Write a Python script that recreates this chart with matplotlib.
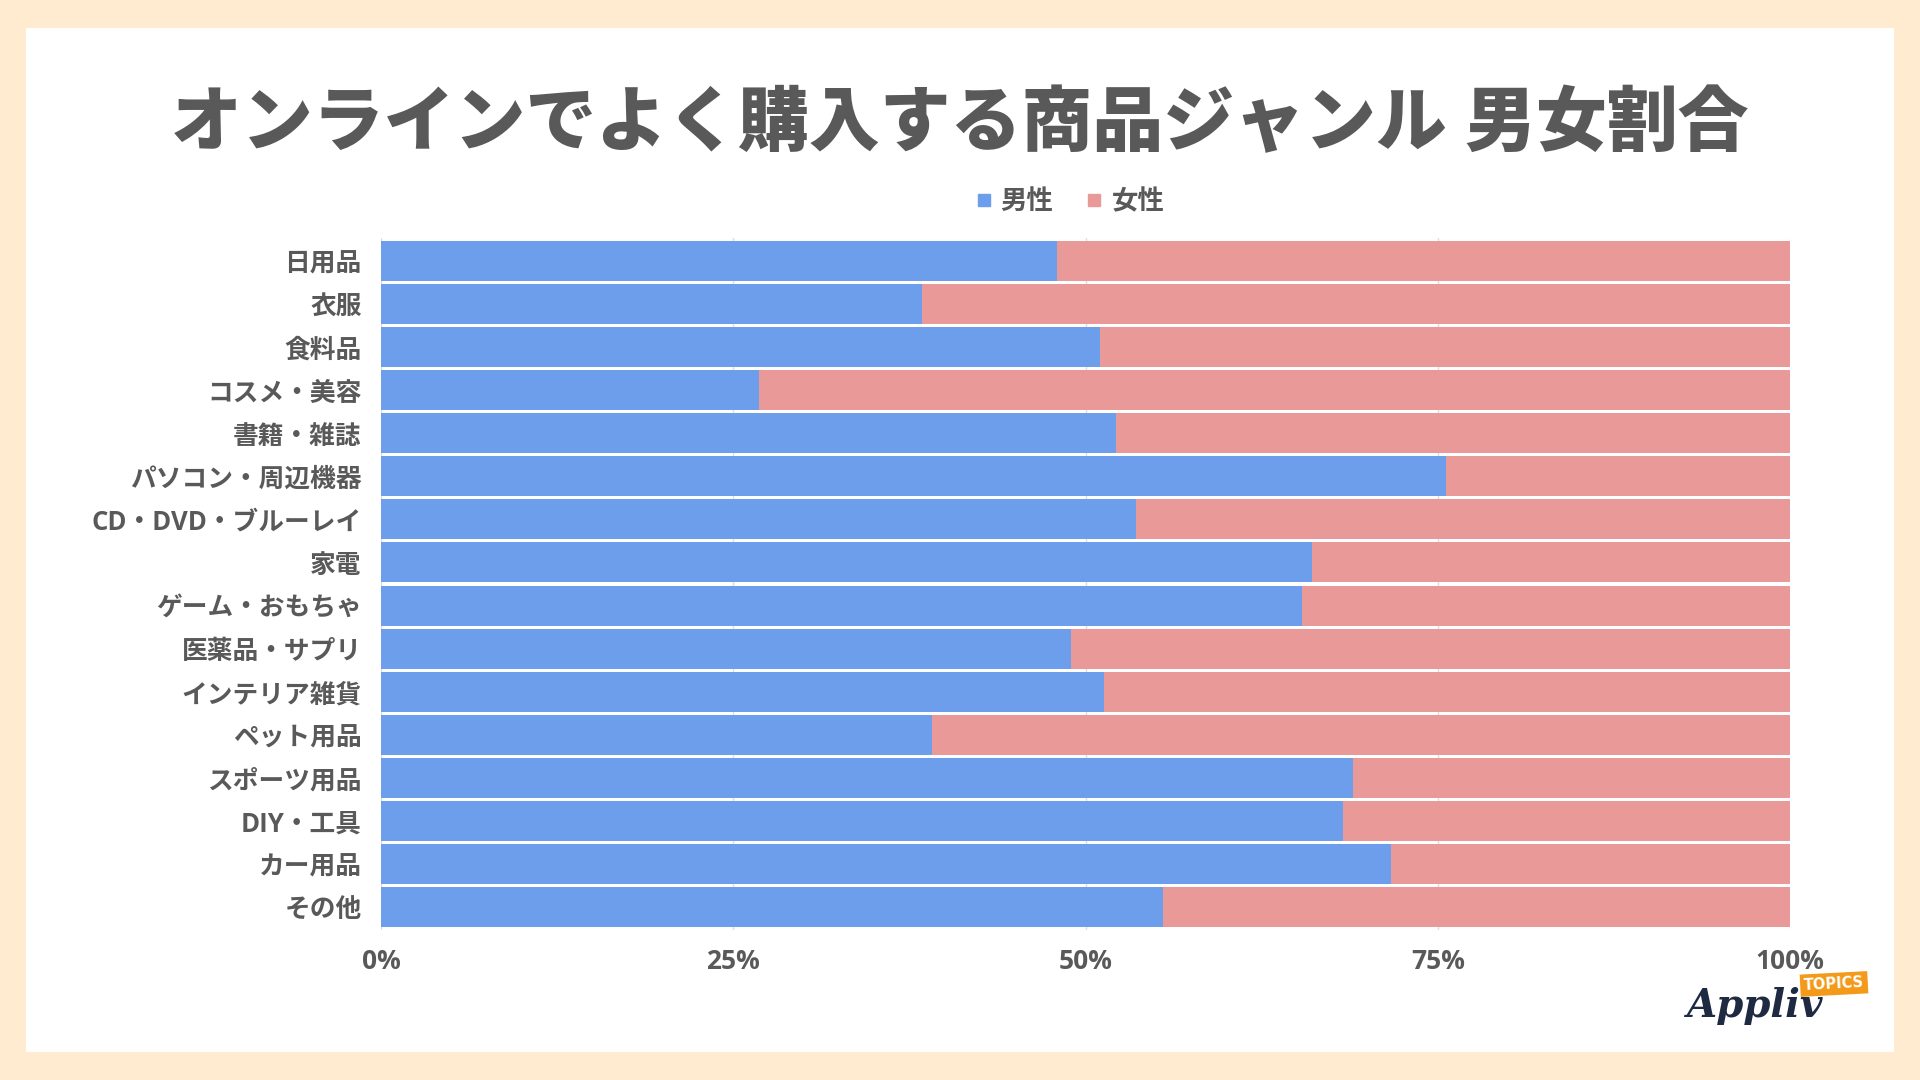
import matplotlib.pyplot as plt
from matplotlib.lines import Line2D
from matplotlib.patches import Rectangle

plt.rcParams['font.family'] = ['Open Sans', 'Noto Sans CJK JP', 'DejaVu Sans']

# データ
categories = ['日用品', '衣服', '食料品', 'コスメ・美容', '書籍・雑誌', 'パソコン・周辺機器',
              'CD・DVD・ブルーレイ', '家電', 'ゲーム・おもちゃ', '医薬品・サプリ',
              'インテリア雑貨', 'ペット用品', 'スポーツ用品', 'DIY・工具', 'カー用品', 'その他']
male = [48.0, 38.4, 51.0, 26.8, 52.2, 75.6, 53.6, 66.1, 65.4, 49.0, 51.3, 39.1, 69.0, 68.3, 71.7, 55.5]
female = [100 - m for m in male]
series_names = ['男性', '女性']
xticks = [0, 25, 50, 75, 100]

BLUE = '#6D9EEB'
PINK = '#EA9999'
TEXT = '#595959'

fig = plt.figure(figsize=(19.2, 10.8), dpi=100)
fig.patch.set_facecolor('#FEEBD0')
fig.patches.append(Rectangle((26 / 1920, 28 / 1080), 1868 / 1920, 1024 / 1080,
                             transform=fig.transFigure, facecolor='white',
                             edgecolor='none', zorder=-5))

ax = fig.add_axes([381 / 1920, 1 - 930 / 1080, 1409 / 1920, 692 / 1080])
ax.set_zorder(3)
ax.set_facecolor('white')

pos = list(range(len(categories)))
ax.barh(pos, male, height=0.93, color=BLUE, zorder=2)
ax.barh(pos, female, left=male, height=0.93, color=PINK, zorder=2)

ax.set_ylim(len(categories) - 0.5 + 0.035, -0.5 - 0.035)
ax.set_xlim(0, 100)
ax.set_yticks(pos)
ax.set_yticklabels(categories, fontsize=18.5, fontweight='bold', color=TEXT)
ax.set_xticks(xticks)
ax.set_xticklabels([f'{t}%' for t in xticks], fontsize=19, fontweight='bold', color=TEXT)
ax.tick_params(axis='y', length=0, pad=14)
ax.tick_params(axis='x', length=0, pad=13)
ax.grid(axis='x', color='#DDDDDD', linewidth=1, zorder=1)
ax.set_axisbelow(True)
for s in ax.spines.values():
    s.set_visible(False)

handles = [Line2D([], [], marker='s', linestyle='none', markersize=8, color=BLUE),
           Line2D([], [], marker='s', linestyle='none', markersize=8, color=PINK)]
leg = ax.legend(handles, series_names, loc='center', bbox_to_anchor=(0.489, 1.053),
                ncol=2, frameon=False, handlelength=0.6, handletextpad=0.35,
                columnspacing=1.25, prop={'size': 19, 'weight': 'bold'})
for t in leg.get_texts():
    t.set_color(TEXT)

# タイトル
fig.text(0.5, 1 - 127 / 1080, 'オンラインでよく購入する商品ジャンル 男女割合',
         ha='center', va='center', fontsize=51, fontweight='heavy', color=TEXT)

# ロゴ
fig.text(1754 / 1920, 1 - 1006 / 1080, 'Appliv', ha='center', va='center',
         fontsize=28, fontstyle='italic', fontweight='bold', family='DejaVu Serif',
         color='#1E2942')
fig.text(1834 / 1920, 1 - 984 / 1080, 'TOPICS', ha='center', va='center',
         fontsize=10.5, fontweight='bold', family='DejaVu Sans', color='white', rotation=3,
         bbox=dict(boxstyle='square,pad=0.25', facecolor='#F39A1B', edgecolor='none'))

fig.savefig('out.png', dpi=100, facecolor=fig.get_facecolor())
